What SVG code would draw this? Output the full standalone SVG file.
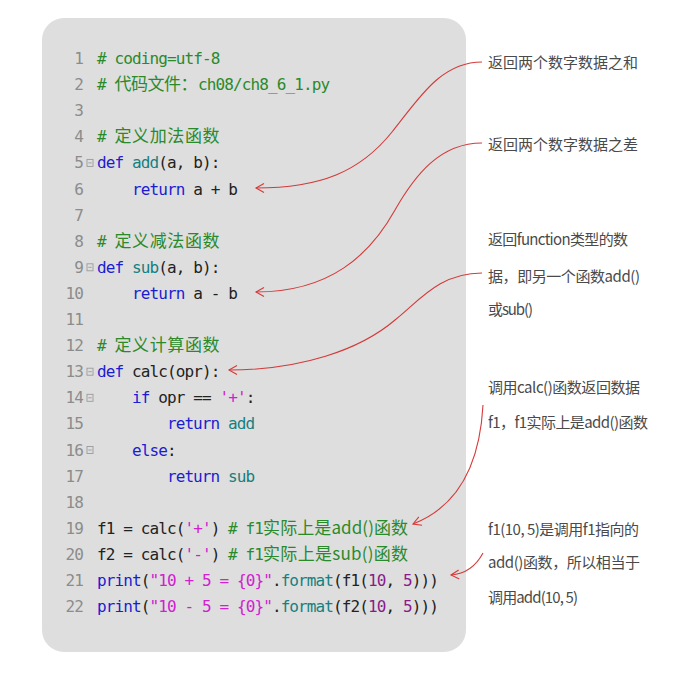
<svg xmlns="http://www.w3.org/2000/svg" width="685" height="676" viewBox="0 0 685 676">
<style>
.c{font-family:"DejaVu Sans Mono","Liberation Mono",monospace;font-size:16px;letter-spacing:-0.89px;fill:#222}
.cj{font-family:"Noto Sans CJK SC","Noto Sans",sans-serif;font-size:17px;letter-spacing:0}
.ln{fill:#8c8c8c;text-anchor:end}
.cm{fill:#2a8a2a}
.kw{fill:#1c1cd0}
.fn{fill:#148080}
.st{fill:#d020d0}
.nu{fill:#8a1a8a}
.fold{fill:none;stroke:#9a9a9a;stroke-width:0.9}
.ann{font-family:"Noto Sans CJK SC","Noto Sans",sans-serif;font-size:15px;fill:#4a4a4a}
.con{fill:none;stroke:#d43a3a;stroke-width:1.1}
</style>
<defs>
<marker id="arr" markerUnits="userSpaceOnUse" markerWidth="12" markerHeight="12" viewBox="-10 -6 12 12" refX="0" refY="0" orient="auto">
<path d="M-8,-4.5 L0,0 L-8,4.5" fill="none" stroke="#d43a3a" stroke-width="1.1"/>
</marker>
</defs>
<rect width="685" height="676" fill="#ffffff"/>
<g id="code">
<rect x="42" y="18" width="424" height="634" rx="22" fill="#dedede"/>
<g id="linenums" class="c ln">
<text x="83" y="64">1</text>
<text x="83" y="90.1">2</text>
<text x="83" y="116.2">3</text>
<text x="83" y="142.3">4</text>
<text x="83" y="168.4">5</text>
<text x="83" y="194.5">6</text>
<text x="83" y="220.6">7</text>
<text x="83" y="246.7">8</text>
<text x="83" y="272.8">9</text>
<text x="83" y="298.9">10</text>
<text x="83" y="325">11</text>
<text x="83" y="351.1">12</text>
<text x="83" y="377.2">13</text>
<text x="83" y="403.3">14</text>
<text x="83" y="429.4">15</text>
<text x="83" y="455.5">16</text>
<text x="83" y="481.6">17</text>
<text x="83" y="507.7">18</text>
<text x="83" y="533.8">19</text>
<text x="83" y="559.9">20</text>
<text x="83" y="586">21</text>
<text x="83" y="612.1">22</text>
</g>
<g id="folds" class="fold">
<rect x="87" y="159.4" width="6" height="7"/><line x1="88.3" y1="162.9" x2="91.7" y2="162.9"/>
<rect x="87" y="263.8" width="6" height="7"/><line x1="88.3" y1="267.3" x2="91.7" y2="267.3"/>
<rect x="87" y="368.2" width="6" height="7"/><line x1="88.3" y1="371.7" x2="91.7" y2="371.7"/>
<rect x="87" y="394.3" width="6" height="7"/><line x1="88.3" y1="397.8" x2="91.7" y2="397.8"/>
<rect x="87" y="446.5" width="6" height="7"/><line x1="88.3" y1="450" x2="91.7" y2="450"/>
</g>
<g id="lines" class="c">
<text x="97" y="64" class="cm" xml:space="preserve"># coding=utf-8</text>
<text y="90.1" class="cm" xml:space="preserve"><tspan x="97">#</tspan><tspan x="114.5" class="cj" textLength="83">代码文件：</tspan><tspan x="198">ch08/ch8_6_1.py</tspan></text>
<text y="142.3" class="cm" xml:space="preserve"><tspan x="97">#</tspan><tspan x="114.5" class="cj" textLength="105">定义加法函数</tspan></text>
<text x="97" y="168.4" xml:space="preserve"><tspan class="kw">def</tspan> <tspan class="fn">add</tspan>(a, b):</text>
<text x="132" y="194.5" xml:space="preserve"><tspan class="kw">return</tspan> a + b</text>
<text y="246.7" class="cm" xml:space="preserve"><tspan x="97">#</tspan><tspan x="114.5" class="cj" textLength="105">定义减法函数</tspan></text>
<text x="97" y="272.8" xml:space="preserve"><tspan class="kw">def</tspan> <tspan class="fn">sub</tspan>(a, b):</text>
<text x="132" y="298.9" xml:space="preserve"><tspan class="kw">return</tspan> a - b</text>
<text y="351.1" class="cm" xml:space="preserve"><tspan x="97">#</tspan><tspan x="114.5" class="cj" textLength="105">定义计算函数</tspan></text>
<text x="97" y="377.2" xml:space="preserve"><tspan class="kw">def</tspan> calc(opr):</text>
<text x="132" y="403.3" xml:space="preserve"><tspan class="kw">if</tspan> opr == <tspan class="st">'+'</tspan>:</text>
<text x="166.9" y="429.4" xml:space="preserve"><tspan class="kw">return</tspan> <tspan class="fn">add</tspan></text>
<text x="132" y="455.5" xml:space="preserve"><tspan class="kw">else</tspan>:</text>
<text x="166.9" y="481.6" xml:space="preserve"><tspan class="kw">return</tspan> <tspan class="fn">sub</tspan></text>
<text y="533.8" xml:space="preserve"><tspan x="97">f1 = calc(<tspan class="st">'+'</tspan>)</tspan><tspan x="228.1" class="cm">#</tspan><tspan x="245.6" class="cm">f1</tspan><tspan x="263.1" class="cj cm" textLength="145">实际上是add()函数</tspan></text>
<text y="559.9" xml:space="preserve"><tspan x="97">f2 = calc(<tspan class="st">'-'</tspan>)</tspan><tspan x="228.1" class="cm">#</tspan><tspan x="245.6" class="cm">f1</tspan><tspan x="263.1" class="cj cm" textLength="145">实际上是sub()函数</tspan></text>
<text x="97" y="586" xml:space="preserve"><tspan class="kw">print</tspan>(<tspan class="st">"10 + 5 = {0}"</tspan>.<tspan class="fn">format</tspan>(f1(<tspan class="nu">10</tspan>, <tspan class="nu">5</tspan>)))</text>
<text x="97" y="612.1" xml:space="preserve"><tspan class="kw">print</tspan>(<tspan class="st">"10 - 5 = {0}"</tspan>.<tspan class="fn">format</tspan>(f2(<tspan class="nu">10</tspan>, <tspan class="nu">5</tspan>)))</text>
</g>
</g>
<g id="note-sum" class="ann">
<text x="488" y="68" textLength="150">返回两个数字数据之和</text>
</g>
<g id="note-diff" class="ann">
<text x="488" y="150" textLength="150">返回两个数字数据之差</text>
</g>
<g id="note-calc" class="ann">
<text x="488" y="245" textLength="140">返回function类型的数</text>
<text x="488" y="282" textLength="152">据，即另一个函数add()</text>
<text x="488" y="315" textLength="45">或sub()</text>
</g>
<g id="note-f1" class="ann">
<text x="488" y="393" textLength="152">调用calc()函数返回数据</text>
<text x="488" y="428" textLength="160">f1，f1实际上是add()函数</text>
</g>
<g id="note-call" class="ann">
<text x="488" y="535" textLength="151">f1(10, 5)是调用f1指向的</text>
<text x="488" y="568" textLength="152">add()函数，所以相当于</text>
<text x="488" y="603" textLength="90">调用add(10, 5)</text>
</g>
<g id="connectors" class="con">
<path d="M482,62 C440,62 418,100 392,132 C360,172 320,188 256,188" marker-end="url(#arr)"/>
<path d="M482,143 C440,143 415,175 395,210 C370,255 330,292 256,292" marker-end="url(#arr)"/>
<path d="M482,273 C440,273 420,300 395,320 C360,350 300,370 229,370" marker-end="url(#arr)"/>
<path d="M483,405 C480,460 462,505 413,524" marker-end="url(#arr)"/>
<path d="M483,553 C476,566 465,574 451,575" marker-end="url(#arr)"/>
</g>
</svg>
